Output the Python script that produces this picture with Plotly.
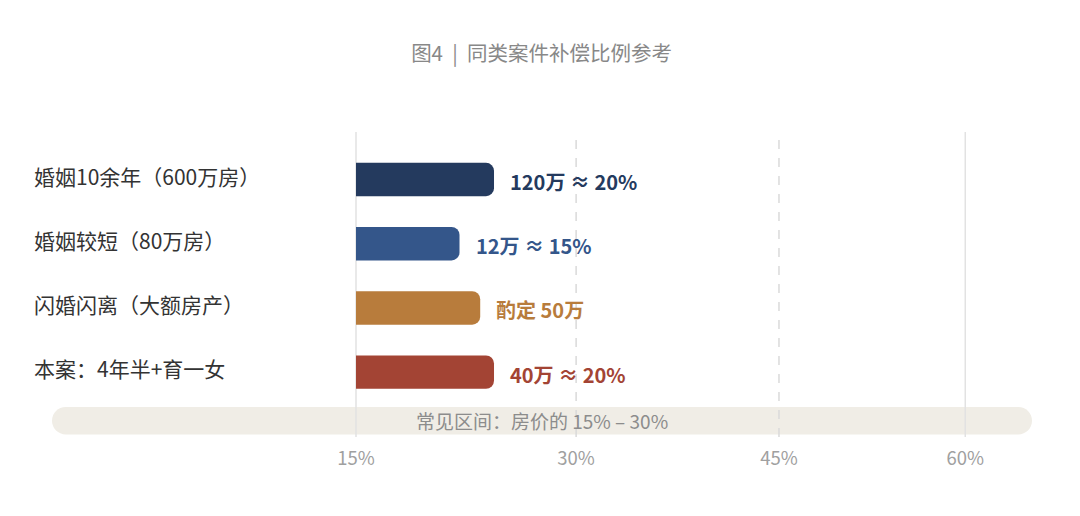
import plotly.graph_objects as go

# data
categories = ["婚姻10余年（600万房）", "婚姻较短（80万房）", "闪婚闪离（大额房产）", "本案：4年半+育一女"]
ratios = [20, 15, 18, 20]
value_labels = ["120万 ≈ 20%", "12万 ≈ 15%", "酌定 50万", "40万 ≈ 20%"]
bar_colors = ["#243a5e", "#34568a", "#b87c3c", "#a34434"]
tick_labels = ["15%", "30%", "45%", "60%"]
band_label = "常见区间：房价的 15% – 30%"
title_text = "图4\u00a0\u00a0|\u00a0\u00a0同类案件补偿比例参考"

FONT = "Noto Sans CJK SC"

# grid positions in axis units (axis: 0 at the left solid line)
tick_pos = [0, 31.9, 61.3, 88.3]
tick_dash = ["solid", "dash", "dash", "solid"]
x_range = [-44.06, 97.97]


def pill_path(x0, x1, y0, y1, rx, ry):
    k = 0.5523
    ym = (y0 + y1) / 2
    return (
        f"M {x0 + rx},{y1} L {x1 - rx},{y1} "
        f"C {x1 - rx + k * rx},{y1} {x1},{ym + k * ry} {x1},{ym} "
        f"C {x1},{ym - k * ry} {x1 - rx + k * rx},{y0} {x1 - rx},{y0} "
        f"L {x0 + rx},{y0} "
        f"C {x0 + rx - k * rx},{y0} {x0},{ym - k * ry} {x0},{ym} "
        f"C {x0},{ym + k * ry} {x0 + rx - k * rx},{y1} {x0 + rx},{y1} Z"
    )


fig = go.Figure()

fig.add_trace(go.Bar(
    x=ratios,
    y=categories,
    orientation="h",
    width=0.52,
    marker=dict(color=bar_colors, cornerradius=8, line=dict(width=0)),
    hoverinfo="skip",
))

shapes = []
# background band for the common range
shapes.append(dict(
    type="path", xref="x", yref="paper", layer="below",
    path=pill_path(x_range[0], x_range[1], 0.0082, 0.098, 1.99, 0.045),
    fillcolor="#f0ede6", line=dict(width=0),
))
for pos, dash in zip(tick_pos, tick_dash):
    shapes.append(dict(
        type="line", xref="x", yref="paper", layer="below",
        x0=pos, x1=pos, y0=0, y1=1,
        line=dict(color="#e2e2e2" if dash == "solid" else "#dadada", width=1.5, dash=dash),
    ))

annotations = []
for cat, val, lab, col in zip(categories, ratios, value_labels, bar_colors):
    annotations.append(dict(
        x=val, y=cat, xref="x", yref="y", text=lab, showarrow=False,
        xanchor="left", yanchor="middle", xshift=14, yshift=-2,
        font=dict(family=FONT, size=20, color=col, weight="bold"),
    ))
    annotations.append(dict(
        x=-0.02, y=cat, xref="paper", yref="y", text=cat, showarrow=False,
        xanchor="left", yanchor="middle", yshift=4,
        font=dict(family=FONT, size=21, color="#333333"),
    ))
annotations.append(dict(
    x=0.4995, y=0.0557, xref="paper", yref="paper", text=band_label, showarrow=False,
    xanchor="center", yanchor="middle",
    font=dict(family=FONT, size=19, color="#8c8c8c"),
))

fig.update_layout(
    width=1080, height=516,
    margin=dict(l=44, r=56, t=124, b=87),
    paper_bgcolor="white", plot_bgcolor="white",
    showlegend=False,
    title=dict(text=title_text, x=0.494, xanchor="center", y=0.9110, yanchor="middle",
               font=dict(family=FONT, size=20.5, color="#888888")),
    xaxis=dict(range=x_range, tickvals=tick_pos, ticktext=tick_labels,
               showgrid=False, zeroline=False, showline=False,
               ticks="outside", ticklen=5, tickcolor="rgba(0,0,0,0)",
               tickfont=dict(family=FONT, size=18.5, color="#a0a0a0"), fixedrange=True),
    yaxis=dict(range=[4.01, -0.74], showticklabels=False, showgrid=False,
               zeroline=False, showline=False, fixedrange=True),
    shapes=shapes,
    annotations=annotations,
)

fig.write_html("out.html")
